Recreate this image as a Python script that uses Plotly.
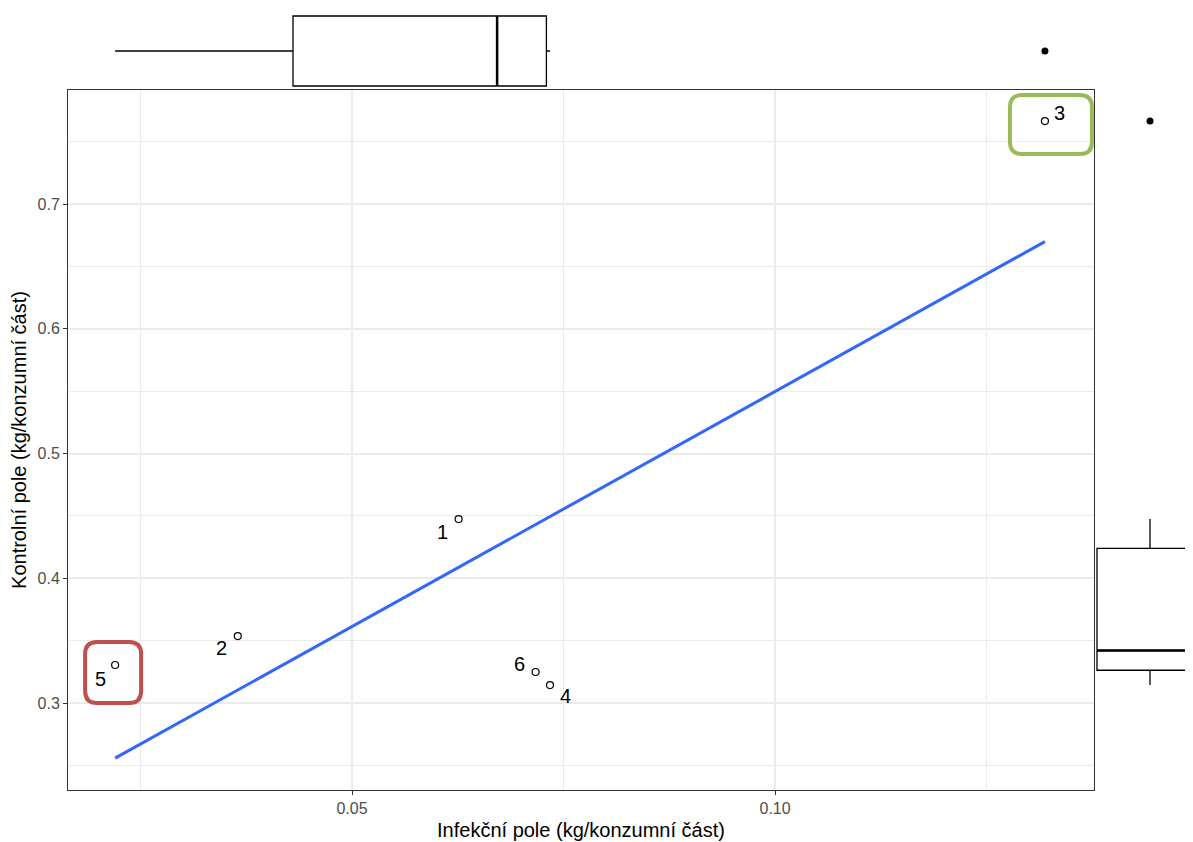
import numpy as np
import plotly.graph_objects as go

# point data
labels = ["1", "2", "3", "4", "5", "6"]
infekcni = [0.0626, 0.0365, 0.1319, 0.0734, 0.0220, 0.0717]
kontrolni = [0.4475, 0.3537, 0.7665, 0.3144, 0.3305, 0.3249]

x_ticks = [0.05, 0.10]
y_ticks = [0.3, 0.4, 0.5, 0.6, 0.7]

# label offsets in pixels (repel-like placement)
label_shift = [(-16, -13), (-16, -12), (15, 8), (16, -11), (-15, -14), (-16, 8)]

OFF = 8  # page body margin
W, H = 1193 - OFF, 842 - OFF
GRID = "#EBEBEB"
FONT = "Liberation Sans, Arial"
X_RANGE = [0.01643, 0.1377]
Y_RANGE = [0.2303, 0.7914]


def px_x(p):
    return (p - OFF) / W


def px_y(p):
    return 1 - (p - OFF) / H


def box_stats(v):
    # ggplot style (type 7) quartiles and tukey fences
    v = np.sort(np.asarray(v))
    q1, med, q3 = np.percentile(v, [25, 50, 75])
    iqr = q3 - q1
    lo = v[v >= q1 - 1.5 * iqr].min()
    hi = v[v <= q3 + 1.5 * iqr].max()
    out = v[(v < lo) | (v > hi)]
    return q1, med, q3, lo, hi, out


fig = go.Figure()

# linear fit line (geom_smooth lm, no se)
slope, icpt = np.polyfit(infekcni, kontrolni, 1)
xl = np.linspace(min(infekcni), max(infekcni), 50)
fig.add_trace(go.Scatter(x=xl, y=slope * xl + icpt, mode="lines",
                         line=dict(color="#3366FF", width=3), hoverinfo="skip"))

# the points
fig.add_trace(go.Scatter(
    x=infekcni, y=kontrolni, mode="markers",
    marker=dict(symbol="circle", size=7, color="white",
                line=dict(color="black", width=1.2)),
))
for lab, xv, yv, (dx, dy) in zip(labels, infekcni, kontrolni, label_shift):
    fig.add_annotation(x=xv, y=yv, text=lab, showarrow=False, xshift=dx, yshift=dy,
                       font=dict(family=FONT, size=20, color="black"))

# top marginal boxplot (x values)
q1, med, q3, lo, hi, out = box_stats(infekcni)
fig.add_trace(go.Box(
    y=[0], q1=[q1], median=[med], q3=[q3], lowerfence=[lo], upperfence=[hi],
    orientation="h", width=70, whiskerwidth=0, fillcolor="white",
    line=dict(color="black", width=1.3), xaxis="x2", yaxis="y2", boxpoints=False,
))
fig.add_trace(go.Scatter(x=[med, med], y=[-35, 35], mode="lines",
                         line=dict(color="black", width=2.5), xaxis="x2", yaxis="y2"))
fig.add_trace(go.Scatter(x=out, y=[0] * len(out), mode="markers",
                         marker=dict(color="black", size=7), xaxis="x2", yaxis="y2"))

# right marginal boxplot (y values)
q1, med, q3, lo, hi, out = box_stats(kontrolni)
fig.add_trace(go.Box(
    x=[0], q1=[q1], median=[med], q3=[q3], lowerfence=[lo], upperfence=[hi],
    orientation="v", width=106, whiskerwidth=0, fillcolor="white",
    line=dict(color="black", width=1.3), xaxis="x3", yaxis="y3", boxpoints=False,
))
fig.add_trace(go.Scatter(x=[-53, 53], y=[med, med], mode="lines",
                         line=dict(color="black", width=2.5), xaxis="x3", yaxis="y3"))
fig.add_trace(go.Scatter(x=[0] * len(out), y=out, mode="markers",
                         marker=dict(color="black", size=7), xaxis="x3", yaxis="y3"))


def rounded(l, r, b, t, rad):
    return (f"M {l + rad} {t} L {r - rad} {t} Q {r} {t} {r} {t - rad} "
            f"L {r} {b + rad} Q {r} {b} {r - rad} {b} L {l + rad} {b} "
            f"Q {l} {b} {l} {b + rad} L {l} {t - rad} Q {l} {t} {l + rad} {t} Z")


# highlight boxes around points 5 and 3
for i, col, (l, r, b, t) in [(4, "#C0504D", (-30, 26, -38, 23)),
                             (2, "#9BBB59", (-35, 47, -33, 26))]:
    fig.add_shape(type="path", xref="x", yref="y",
                  xsizemode="pixel", ysizemode="pixel",
                  xanchor=infekcni[i], yanchor=kontrolni[i],
                  path=rounded(l, r, b, t, 12),
                  line=dict(color=col, width=4))

axis_common = dict(showline=True, linecolor="#333333", linewidth=1, mirror=True,
                   zeroline=False, ticks="outside", ticklen=4, tickcolor="#333333",
                   gridcolor=GRID, gridwidth=1.6,
                   tickfont=dict(family=FONT, size=16, color="#4D4D4D"),
                   automargin=False)

x_dom = [px_x(68), px_x(1094)]
y_dom = [px_y(790), px_y(90)]

fig.update_layout(
    width=W, height=H, showlegend=False,
    margin=dict(l=0, r=0, t=0, b=0),
    paper_bgcolor="white", plot_bgcolor="white",
    font=dict(family=FONT, color="black"),
    xaxis=dict(domain=x_dom, range=X_RANGE,
               tickvals=x_ticks, tickformat=".2f",
               minor=dict(dtick=0.025, tick0=0.025, showgrid=True, gridcolor=GRID, gridwidth=1),
               title=dict(text="Infekční pole (kg/konzumní část)",
                          font=dict(size=20, color="black"), standoff=6),
               anchor="y", **axis_common),
    yaxis=dict(domain=y_dom, range=Y_RANGE,
               tickvals=y_ticks, tickformat=".1f",
               minor=dict(dtick=0.05, tick0=0.25, showgrid=True, gridcolor=GRID, gridwidth=1),
               title=dict(text="Kontrolní pole (kg/konzumní část)",
                          font=dict(size=20, color="black"), standoff=6),
               anchor="x", **axis_common),
    # marginal panels: own axes so the main grid does not leak into them
    xaxis2=dict(domain=x_dom, range=X_RANGE, anchor="y2", visible=False),
    yaxis2=dict(domain=[px_y(90), 1], range=[-39, 43], anchor="x2", visible=False),
    xaxis3=dict(domain=[px_x(1094), 1], range=[-56, 43], anchor="y3", visible=False),
    yaxis3=dict(domain=y_dom, range=Y_RANGE, anchor="x3", visible=False),
)

fig.write_html("out.html")
